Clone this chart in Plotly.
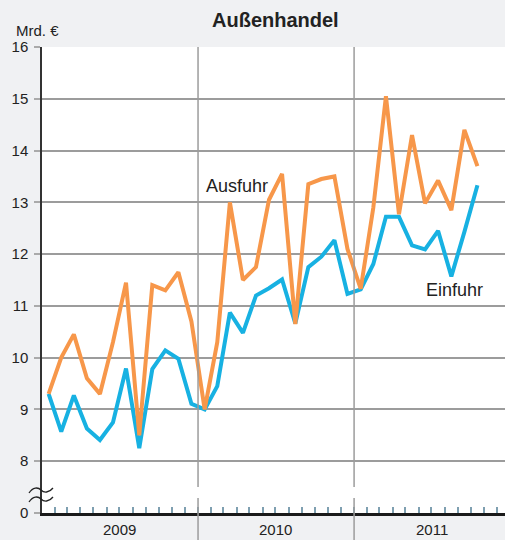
import plotly.graph_objects as go

months = ([f"2009-{m:02d}" for m in range(1, 13)] +
          [f"2010-{m:02d}" for m in range(1, 13)] +
          [f"2011-{m:02d}" for m in range(1, 11)])

ausfuhr = [9.3, 10.0, 10.45, 9.6, 9.3, 10.3, 11.45, 8.5, 11.4, 11.3, 11.65, 10.7,
           9.0, 10.3, 13.0, 11.5, 11.75, 13.05, 13.55, 10.65, 13.35, 13.45, 13.5, 12.1,
           11.33, 12.9, 15.05, 12.77, 14.3, 12.98, 13.42, 12.85, 14.4, 13.7]
einfuhr = [9.3, 8.57, 9.27, 8.63, 8.41, 8.75, 9.79, 8.25, 9.78, 10.14, 9.98, 9.11,
           9.0, 9.45, 10.87, 10.48, 11.2, 11.34, 11.51, 10.66, 11.75, 11.95, 12.27, 11.23,
           11.32, 11.81, 12.72, 12.72, 12.17, 12.09, 12.45, 11.57, 12.43, 13.33]

y_tickvals = [7, 8, 9, 10, 11, 12, 13, 14, 15, 16]
y_ticktext = ["0", "8", "9", "10", "11", "12", "13", "14", "15", "16"]
years = ["2009", "2010", "2011"]
year_centers = ["2009-07-02", "2010-07-02", "2011-07-02"]
year_bounds = ["2010-01-01", "2011-01-01"]

ORANGE = "#f7974a"
BLUE = "#17b1e2"
GRID = "#9c9c9c"
TXT = "#222222"
FONT = "Liberation Sans, Arial, Helvetica, sans-serif"

fig = go.Figure()
fig.add_trace(go.Scatter(x=months, y=einfuhr, mode="lines", name="Einfuhr",
                         xperiod="M1", xperiodalignment="middle",
                         line=dict(color=BLUE, width=4)))
fig.add_trace(go.Scatter(x=months, y=ausfuhr, mode="lines", name="Ausfuhr",
                         xperiod="M1", xperiodalignment="middle",
                         line=dict(color=ORANGE, width=4)))

W, H = 505, 540
L, R, T, B = 42, 0, 47, 27
ph = H - T - B


def py(p):
    return (H - B - p) / ph


def px(p):
    return (p - L) / (W - L - R)


shapes = []
for yb in year_bounds:
    shapes.append(dict(type="line", xref="x", yref="paper", x0=yb, x1=yb,
                       y0=py(487), y1=1, line=dict(color=GRID, width=1.5), layer="above"))
    shapes.append(dict(type="line", xref="x", yref="paper", x0=yb, x1=yb,
                       y0=py(540), y1=py(498), line=dict(color=GRID, width=1.5), layer="above"))

# axis break waves
for yc in (490, 499):
    path = (f"M {px(29)},{py(yc + 3)} C {px(33)},{py(yc - 3)} {px(38)},{py(yc - 3)} {px(41)},{py(yc)} "
            f"S {px(49)},{py(yc + 3)} {px(53)},{py(yc - 2)}")
    shapes.append(dict(type="path", xref="paper", yref="paper", path=path,
                       line=dict(color="#222222", width=1.3), layer="above"))

annotations = [
    dict(text="<b>Außenhandel</b>", xref="paper", yref="paper", x=px(275), y=py(20),
         xanchor="center", yanchor="middle", showarrow=False,
         font=dict(size=20, color=TXT, family=FONT)),
    dict(text="Mrd. €", xref="paper", yref="paper", x=px(14), y=py(31),
         xanchor="left", yanchor="middle", showarrow=False,
         font=dict(size=15, color=TXT, family=FONT)),
    dict(text="Ausfuhr", xref="paper", yref="paper", x=px(204), y=py(186),
         xanchor="left", yanchor="middle", showarrow=False,
         font=dict(size=18, color=TXT, family=FONT)),
    dict(text="Einfuhr", xref="paper", yref="paper", x=px(424), y=py(290),
         xanchor="left", yanchor="middle", showarrow=False,
         font=dict(size=18, color=TXT, family=FONT)),
]
for yr, xc in zip(years, year_centers):
    annotations.append(dict(text=yr, xref="x", yref="paper", x=xc, y=py(529),
                            xanchor="center", yanchor="middle", showarrow=False,
                            font=dict(size=15, color=TXT, family=FONT)))

fig.update_layout(
    width=W, height=H,
    margin=dict(l=L, r=R, t=T, b=B, pad=0),
    paper_bgcolor="#f0f1f3", plot_bgcolor="#ffffff",
    showlegend=False,
    font=dict(family=FONT, size=15, color=TXT),
    shapes=shapes, annotations=annotations,
    xaxis=dict(type="date", range=["2009-01-01", "2011-12-20"],
               showgrid=False, zeroline=False,
               tick0="2009-01-01", dtick="M1", ticks="inside", ticklen=6,
               tickcolor="#7e9fb0", tickwidth=1.5, showticklabels=False,
               showline=True, linecolor="#1a1a1a", linewidth=2.5),
    yaxis=dict(range=[7, 16], tickvals=y_tickvals, ticktext=y_ticktext,
               showgrid=True, gridcolor=GRID, gridwidth=1.5, zeroline=False,
               ticks="outside", ticklen=6, tickcolor="#aaaaaa", tickwidth=1.5,
               ticklabelstandoff=3,
               showline=True, linecolor="#333333", linewidth=1.5,
               tickfont=dict(size=15, color=TXT, family=FONT)),
)

fig.write_html("out.html", config={"displayModeBar": False},
               post_script="document.body.style.margin='0';document.body.style.overflow='hidden';")
